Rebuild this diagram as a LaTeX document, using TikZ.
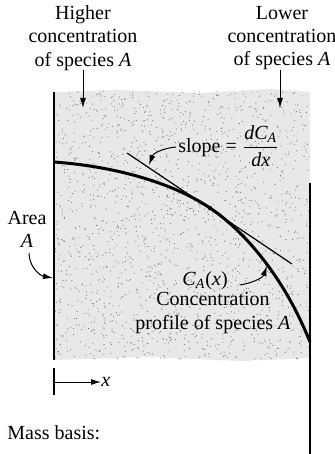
\documentclass[tikz,border=0pt]{standalone}
\usepackage{fontspec}
\usepackage{amsmath}
\setmainfont{Liberation Serif}
\usetikzlibrary{arrows.meta}
\begin{document}
\begin{tikzpicture}[x=0.5pt,y=-0.5pt,
  lbl/.style={font=\fontsize{10}{11.6}\selectfont, align=center, inner sep=0pt},
  arr/.style={-{Latex[length=5pt,width=3pt]}, line width=0.5pt},
  wall/.style={line width=0.8pt},
  prof/.style={line width=1.5pt}]
\useasboundingbox (0,0) rectangle (334,454);
% stippled region
\fill[black!9] (54,92) -- (120,90) -- (200,93) -- (270,89) -- (310,92) -- (310,358) -- (240,361) -- (150,357) -- (54,360) -- cycle;
\pgfmathsetseed{7}
\foreach \i in {1,...,1800}{
  \pgfmathsetmacro\px{55+255*rnd}
  \pgfmathsetmacro\py{91+268*rnd}
  \fill[black!55] (\px,\py) circle (0.55);
}
% walls
\draw[wall] (54,92) -- (54,360);
\draw[wall] (310,183) -- (310,454);
% profile
\coordinate (p0) at (54,162);
\coordinate (pt) at (210,208);
\coordinate (p1) at (310,342);
\draw[prof] (p0) .. controls (110,166) and (170,181) .. (pt)
                 .. controls (240,228) and (282,272) .. (p1);
\fill (pt) circle (2.2);
\coordinate (t1) at (127,153);
\coordinate (t2) at (292,264);
\draw[line width=0.6pt] (t1) -- (t2);
% top labels
\node[lbl] (hi) at (83,38) {Higher\\concentration\\of species \textit{A}};
\node[lbl] (lo) at (282,38) {Lower\\concentration\\of species \textit{A}};
\coordinate (hia) at (83,108);
\coordinate (loa) at (280,108);
\draw[arr] (83,70) -- (hia);
\draw[arr] (280,70) -- (loa);
% slope
\node[lbl, anchor=west] (sl) at (178,146) {slope = $\dfrac{\textit{dC}_{\textit{A}}}{\textit{dx}}$};
\coordinate (slt) at (149,165);
\draw[arr] (176,147) to[out=185, in=70] (slt);
% area
\node[lbl] (ar) at (27,229) {Area\\\textit{A}};
\coordinate (art) at (53,278);
\draw[arr] (29,253) to[out=-90, in=170] (art);
% C_A(x)
\node[lbl] (ca) at (205,281) {\textit{C}\textsubscript{\textit{A}}(\textit{x})};
\node[lbl] (cp) at (213,313) {Concentration\\profile of species \textit{A}};
\coordinate (cat) at (267,266);
\draw[arr] (240,285) to[out=10, in=-110] (cat);
% x axis
\draw[wall] (54,368) -- (54,395);
\node[lbl, anchor=west] (xl) at (101,382) {\textit{x}};
\draw[arr] (54,382) -- (xl.west);
% mass basis
\node[lbl, anchor=west] (mb) at (7,433) {Mass basis:};
\end{tikzpicture}
\end{document}
